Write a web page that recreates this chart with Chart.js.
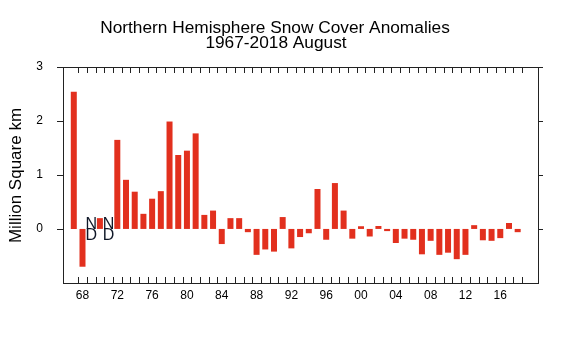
<!DOCTYPE html>
<html>
<head>
<meta charset="utf-8">
<script src="https://cdn.jsdelivr.net/npm/chart.js@4/dist/chart.umd.min.js"></script>
<style>
  html, body { margin: 0; padding: 0; background: #ffffff; }
  #c { display: block; }
</style>
</head>
<body>
<canvas id="c" width="585" height="341"></canvas>
<script>
const titleLines = ['Northern Hemisphere Snow Cover Anomalies', '1967-2018 August'];
const yTitle = 'Million Square km';
const years = [];
for (let y = 1967; y <= 2018; y++) years.push(y);
const anomalies = [
  2.54, -0.70, null, 0.20, null, 1.65, 0.91, 0.69, 0.28, 0.56,
  0.70, 1.99, 1.37, 1.45, 1.77, 0.26, 0.34, -0.28, 0.20, 0.20,
  -0.06, -0.48, -0.38, -0.42, 0.22, -0.36, -0.15, -0.08, 0.74, -0.20,
  0.85, 0.34, -0.18, 0.05, -0.14, 0.055, -0.04, -0.26, -0.18, -0.20,
  -0.47, -0.22, -0.48, -0.44, -0.56, -0.48, 0.07, -0.21, -0.22, -0.17,
  0.11, -0.06
];
const xLabelYears = [1968, 1972, 1976, 1980, 1984, 1988, 1992, 1996, 2000, 2004, 2008, 2012, 2016];
const yTicks = [0, 1, 2, 3];
const noDataText = ['N', 'D'];

const FONT = '"Liberation Sans", Arial, sans-serif';

const frame = {
  id: 'frame',
  afterDraw(chart) {
    const ctx = chart.ctx;
    const a = chart.chartArea;
    const xs = chart.scales.x, ys = chart.scales.y;
    const L = Math.round(a.left), R = Math.round(a.right), T = Math.round(a.top), B = Math.round(a.bottom);
    ctx.save();
    ctx.fillStyle = '#222';
    ctx.fillRect(L, T, R - L, 1);
    ctx.fillRect(L, B - 1, R - L, 1);
    ctx.fillRect(L, T, 1, B - T);
    ctx.fillRect(R - 1, T, 1, B - T);
    // x ticks inside, top and bottom, between years
    years.forEach(yr => {
      const px = Math.round((xs.getPixelForValue(yr) + xs.getPixelForValue(yr + 1)) / 2);
      ctx.fillRect(px, B - 7, 1, 7);
      ctx.fillRect(px, T, 1, 6);
    });
    // y ticks outside, left and right
    yTicks.forEach(v => {
      const py = Math.round(ys.getPixelForValue(v));
      ctx.fillRect(L - 6, py, 6, 1);
      ctx.fillRect(R, py, 4, 1);
    });
    // no-data markers
    ctx.fillStyle = '#101828';
    ctx.font = '16px ' + FONT;
    ctx.textAlign = 'center';
    const y0 = ys.getPixelForValue(0);
    years.forEach((yr, i) => {
      if (anomalies[i] === null) {
        const px = xs.getPixelForValue(yr);
        ctx.textBaseline = 'alphabetic';
        ctx.fillText(noDataText[0], px, y0);
        ctx.textBaseline = 'top';
        ctx.fillText(noDataText[1], px, y0 - 1);
      }
    });
    // title
    ctx.fillStyle = '#000';
    ctx.textBaseline = 'alphabetic';
    ctx.font = '17.3px ' + FONT;
    ctx.fillText(titleLines[0], 275, 33);
    ctx.fillText(titleLines[1], 276, 48);
    ctx.restore();
  }
};

new Chart(document.getElementById('c'), {
  type: 'bar',
  data: {
    datasets: [{
      data: years.map((yr, i) => ({ x: yr, y: anomalies[i] })),
      backgroundColor: '#e2301e',
      borderWidth: 0,
      barPercentage: 0.69,
      categoryPercentage: 1.0
    }]
  },
  options: {
    responsive: false,
    animation: false,
    layout: { padding: { top: 67, left: 0, right: 0, bottom: 0 } },
    plugins: { legend: { display: false }, title: { display: false }, tooltip: { enabled: false } },
    scales: {
      x: {
        type: 'linear',
        offset: false,
        min: 1965.76,
        max: 2020.45,
        grid: { display: false, drawTicks: false },
        border: { display: false },
        afterBuildTicks: s => { s.ticks = xLabelYears.map(v => ({ value: v })); },
        afterFit: s => { s.height = 57; },
        ticks: {
          autoSkip: false,
          maxRotation: 0,
          padding: 4,
          color: '#000',
          font: { family: FONT, size: 12 },
          callback: v => String(v % 100).padStart(2, '0')
        }
      },
      y: {
        min: -1.02,
        max: 3,
        grid: { display: false, drawTicks: false },
        border: { display: false },
        afterBuildTicks: s => { s.ticks = yTicks.map(v => ({ value: v })); },
        afterFit: s => { s.width = 63; },
        ticks: {
          padding: 20,
          color: '#000',
          font: { family: FONT, size: 12 }
        },
        title: {
          display: true,
          text: yTitle,
          color: '#000',
          font: { family: FONT, size: 17 },
          padding: { top: 6, bottom: 0 }
        }
      },
      y2: {
        position: 'right',
        min: -1.02,
        max: 3,
        grid: { display: false, drawTicks: false },
        border: { display: false },
        ticks: { display: false },
        afterFit: s => { s.width = 46; }
      }
    }
  },
  plugins: [frame]
});
</script>
</body>
</html>
